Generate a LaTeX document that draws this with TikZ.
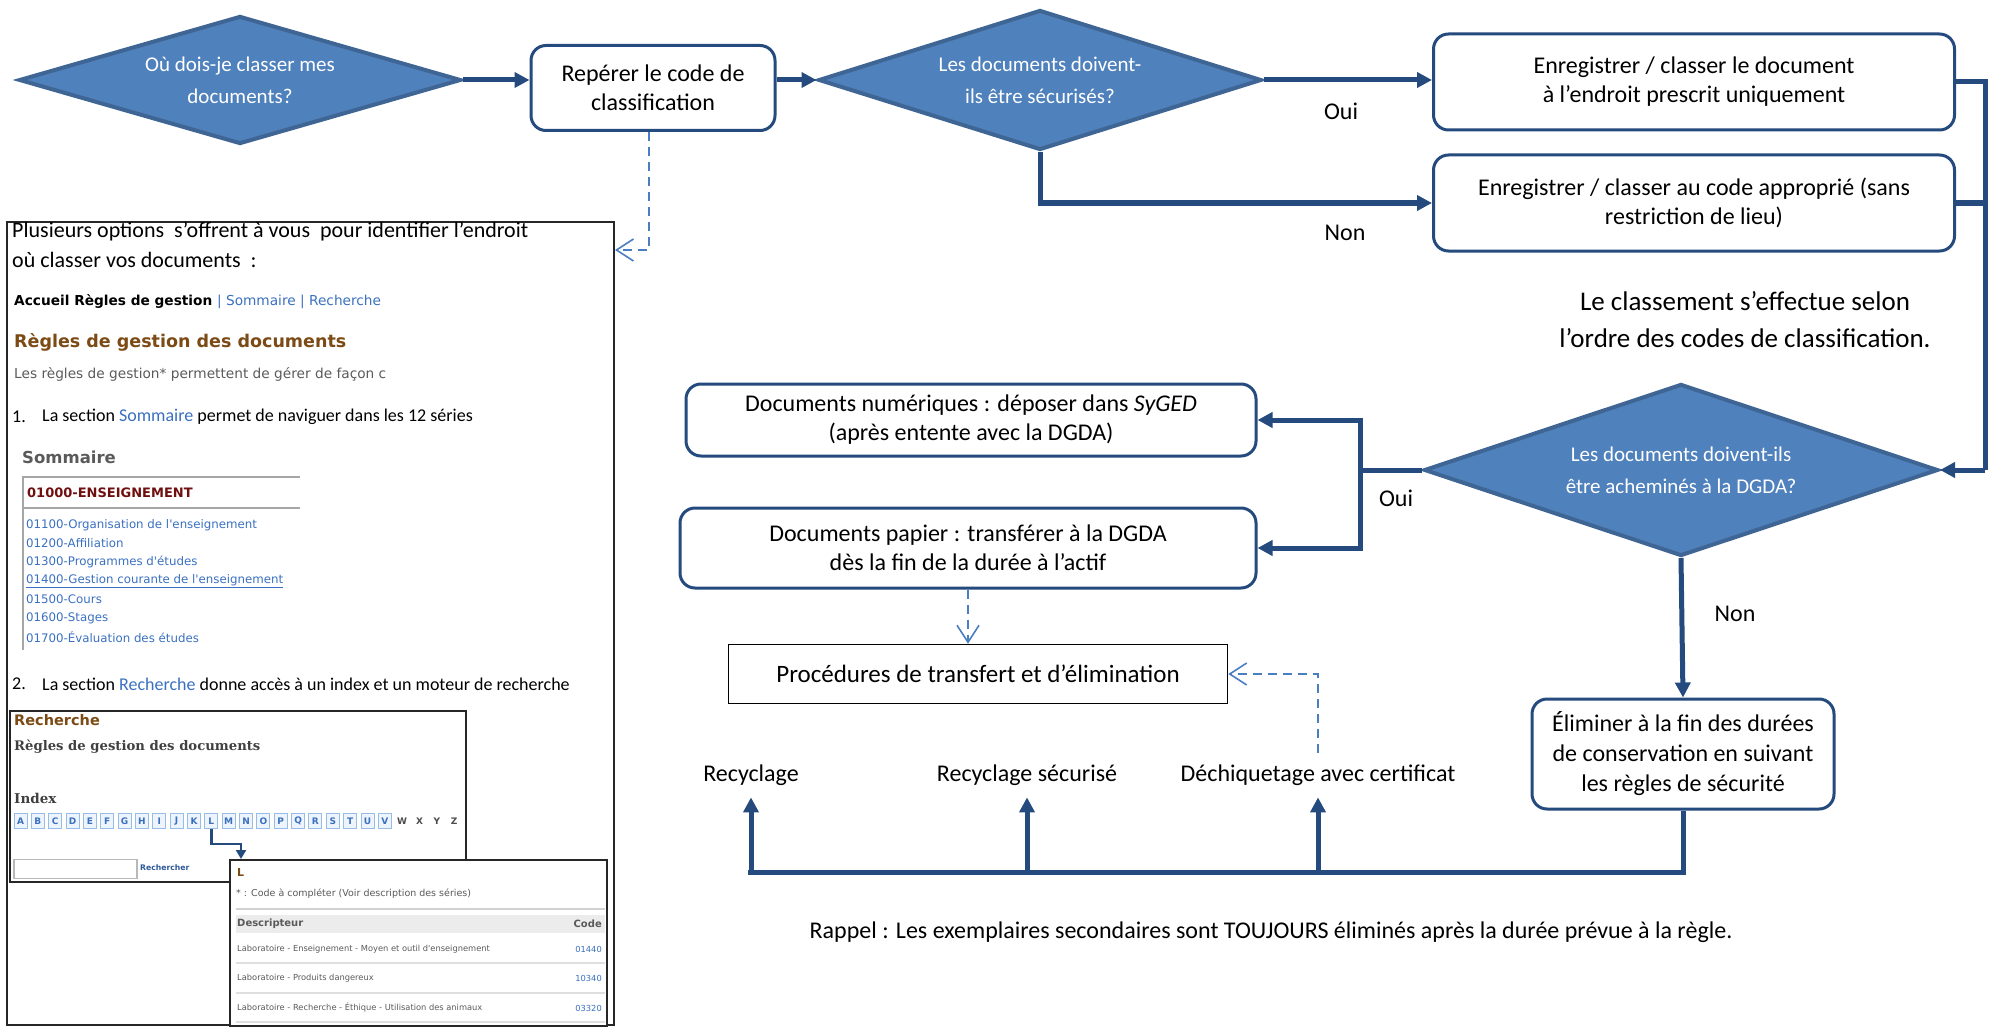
\documentclass[tikz,border=0pt]{standalone}
\usepackage{fontspec}
\setmainfont{Carlito}
\newfontfamily\webfont{DejaVu Sans}
\newfontfamily\webserif{DejaVu Serif}
\usepackage{tikz}
\usetikzlibrary{shapes.geometric,arrows.meta}

\definecolor{decfill}{HTML}{4F81BD}
\definecolor{decline}{HTML}{3F6594}
\definecolor{flowblue}{HTML}{244A7E}
\definecolor{hintblue}{HTML}{4A7EC2}
\definecolor{linkblue}{HTML}{3A70C0}
\definecolor{webbrown}{HTML}{7C4A14}
\definecolor{webred}{HTML}{700F10}
\definecolor{webgray}{HTML}{5A5A5A}
\definecolor{keyline}{HTML}{98BCE8}
\definecolor{keyfill}{HTML}{EEF4FC}

\newcommand{\sz}[2]{\fontsize{#1}{#2}\selectfont}

\tikzset{
  decision/.style={diamond, aspect=3, draw=decline, fill=decfill, line width=4pt, inner sep=0pt,
    text=white, align=center, font=\sz{21}{32}},
  stepbox/.style={rectangle, rounded corners=15pt, draw=flowblue, line width=3pt,
    fill=white, align=center, inner sep=0pt, font=\sz{24}{29}},
  flow/.style={draw=flowblue, line width=5pt},
  hint/.style={draw=hintblue, line width=1.6pt, dash pattern=on 9pt off 6pt,
    -{Straight Barb[length=17pt,width=22pt,line width=1.6pt]}},
  tag/.style={inner sep=0pt, font=\sz{24}{29}},
  web/.style={anchor=west, inner sep=0pt},
  panel/.style={draw=black!85, line width=1.5pt, inner sep=0pt},
  keycap/.style={draw=keyline, fill=keyfill, line width=1pt, minimum width=13pt,
    minimum height=15pt, inner sep=0pt, text=linkblue, font=\webfont\bfseries\sz{9}{10}},
}

\begin{document}
\begin{tikzpicture}[x=1pt,y=-1pt,>={Triangle[length=15pt,width=15pt]}]
\useasboundingbox (0,0) rectangle (1993,1027);

% top row
\node[decision, minimum width=442pt, minimum height=128pt] (where) at (240,80) {Où dois-je classer mes\\documents?};
\node[stepbox, minimum width=244pt, minimum height=85pt] (locate) at (653,88) {Repérer le code de\\classification};
\node[decision, minimum width=443pt, minimum height=140pt] (secure) at (1040,80) {Les documents doivent-\\ils être sécurisés?};
\node[stepbox, minimum width=521pt, minimum height=96pt] (fixed) at (1694,82) {Enregistrer / classer le document\\à l’endroit prescrit uniquement};
\node[stepbox, minimum width=521pt, minimum height=96pt] (free) at (1694,203) {Enregistrer / classer au code approprié (sans\\restriction de lieu)};
\node[tag] (yes1) at (1341,111) {Oui};
\node[tag] (no1) at (1345,233) {Non};
\node[tag, align=center, font=\sz{27}{37}] (order) at (1745,320) {Le classement s’effectue selon\\l’ordre des codes de classification.};

% second part
\node[decision, minimum width=514pt, minimum height=172pt] (send) at (1681,470) {Les documents doivent-ils\\être acheminés à la DGDA?};
\node[stepbox, minimum width=570pt, minimum height=72pt] (digital) at (971,420) {Documents numériques : déposer dans \textit{SyGED}\\(après entente avec la DGDA)};
\node[stepbox, minimum width=576pt, minimum height=80pt] (paper) at (968,548) {Documents papier : transférer à la DGDA\\dès la fin de la durée à l’actif};
\node[tag] (yes2) at (1396,498) {Oui};
\node[tag] (no2) at (1735,614) {Non};
\node[stepbox, minimum width=302pt, minimum height=110pt, font=\sz{24}{30}] (purge) at (1683,754) {Éliminer à la fin des durées\\de conservation en suivant\\les règles de sécurité};
\node[draw=black, line width=1.5pt, minimum width=499pt, minimum height=59pt, font=\sz{25}{30}] (proc) at (978,674) {Procédures de transfert et d’élimination};
\node[tag, outer sep=12pt] (recy) at (751,775) {Recyclage};
\node[tag, outer sep=12pt] (recysafe) at (1027,775) {Recyclage sécurisé};
\node[tag, outer sep=12pt] (shred) at (1318,775) {Déchiquetage avec certificat};
\node[tag] (remind) at (1271,932) {Rappel : Les exemplaires secondaires sont TOUJOURS éliminés après la durée prévue à la règle.};

\coordinate (rail) at (1985,470);
\coordinate (split) at (1360,470);
\coordinate (bus) at (748,872);
\coordinate (tap) at (615,250);

\draw[flow,->] (where.east) -- (where.east -| locate.west);
\draw[flow,->] (secure.west -| locate.east) -- (secure.west);
\draw[flow,->] (secure.east) -- (secure.east -| fixed.west);
\draw[flow,->] (secure.south) |- (free.west);
\draw[flow] (fixed.east) -| (rail);
\draw[flow] (free.east) -- (free.east -| rail);
\draw[flow,->] (rail) -- (send.east);
\draw[flow] (send.west) -- (split);
\draw[flow,->] (split) |- (digital.east);
\draw[flow,->] (split) |- (paper.east);
\draw[flow,->] (send.south) -- (purge.north);
\draw[flow] (purge.south) |- (bus);
\draw[flow,->] (recy.south |- bus) -- (recy.south);
\draw[flow,->] (recysafe.south |- bus) -- (recysafe.south);
\draw[flow,->] (shred.south |- bus) -- (shred.south);

\draw[hint] ([xshift=-4pt]locate.south) |- (tap);
\draw[hint] (paper.south) -- (paper.south |- proc.north);
\draw[hint] (shred.north) |- (proc.east);

% screenshot of the web page
\node[panel, minimum width=607pt, minimum height=803pt] (shot) at (310.5,623.5) {};
\node[web, font=\sz{22}{24}] (intro1) at (12,232) {Plusieurs options~ s’offrent à vous~ pour identifier l’endroit};
\node[web, font=\sz{22}{24}] (intro2) at (12,260) {où classer vos documents~ :};
\node[web, font=\webfont\bfseries\sz{13.7}{16}] (crumbs) at (14,302) {Accueil Règles de gestion \textcolor{linkblue}{\mdseries| Sommaire | Recherche}};
\node[web, text=webbrown, font=\webfont\bfseries\sz{17.5}{20}] (rulestitle) at (14,342) {Règles de gestion des documents};
\node[web, text=webgray, font=\webfont\sz{13.7}{16}] (rulesnote) at (14,374) {Les règles de gestion* permettent de gérer de façon c};
\node[web, font=\sz{18}{22}] (num1) at (12,417) {1.};
\node[web, font=\sz{18}{22}] (sect1) at (42,417) {La section \textcolor{linkblue}{Sommaire} permet de naviguer dans les 12 séries};
\node[web, text=webgray, font=\webfont\bfseries\sz{16.5}{19}] (summary) at (22,457) {Sommaire};
\draw[gray!70, line width=2pt] (22,477) -- (300,477);
\draw[gray!70, line width=2pt] (22,508) -- (300,508);
\draw[gray!70, line width=1.5pt] (23,477) -- (23,650);
\node[web, text=webred, font=\webfont\bfseries\sz{13}{15}] (series) at (27,493) {01000-ENSEIGNEMENT};
\node[web, text=linkblue, font=\webfont\sz{11.8}{13}] (item1) at (26,525) {01100-Organisation de l'enseignement};
\node[web, text=linkblue, font=\webfont\sz{11.8}{13}] (item2) at (26,543.5) {01200-Affiliation};
\node[web, text=linkblue, font=\webfont\sz{11.8}{13}] (item3) at (26,562) {01300-Programmes d'études};
\node[web, text=linkblue, font=\webfont\sz{11.8}{13}] (item4) at (26,581) {\underline{01400-Gestion courante de l'enseignement}};
\node[web, text=linkblue, font=\webfont\sz{11.8}{13}] (item5) at (26,599.5) {01500-Cours};
\node[web, text=linkblue, font=\webfont\sz{11.8}{13}] (item6) at (26,618) {01600-Stages};
\node[web, text=linkblue, font=\webfont\sz{11.8}{13}] (item7) at (26,637) {01700-Évaluation des études};
\node[web, font=\sz{18}{22}] (num2) at (12,684) {2.};
\node[web, font=\sz{18}{22}] (sect2) at (42,684) {La section \textcolor{linkblue}{Recherche} donne accès à un index et un moteur de recherche};

% search panel
\node[panel, minimum width=456pt, minimum height=171pt] (findbox) at (238,796.5) {};
\node[web, text=webbrown, font=\webfont\bfseries\sz{14.5}{16}] (findtitle) at (14,720) {Recherche};
\node[web, text=black!75, font=\webserif\bfseries\sz{13.2}{15}] (findsub) at (14,747) {Règles de gestion des documents};
\node[web, text=black!75, font=\webserif\bfseries\sz{13.5}{15}] (index) at (14,798) {Index};
\foreach \ch [count=\k from 0] in {A,B,C,D,E,F,G,H,I,J,K,L,M,N,O,P,Q,R,S,T,U,V}
  \node[keycap] (key\ch) at ({20.5+17.35*\k},821) {\ch};
\foreach \ch [count=\k from 22] in {W,X,Y,Z}
  \node[inner sep=0pt, text=black!70, font=\webfont\bfseries\sz{9}{10}] (key\ch) at ({20.5+17.35*\k},821) {\ch};
\node[draw=gray!55, line width=1.5pt, minimum width=123pt, minimum height=19pt, inner sep=0pt] (query) at (75.5,869) {};
\node[web, text=linkblue!80!black, font=\webfont\bfseries\sz{7.7}{9}] (go) at (140,868) {Rechercher};

% result panel for L
\node[panel, fill=white, line width=2pt, minimum width=377pt, minimum height=166pt] (lbox) at (418.5,943) {};
\coordinate (ldrop) at (241,844);
\draw[draw=flowblue, line width=2.5pt, -{Triangle[length=9pt,width=10pt]}] (keyL.south) |- (ldrop) -- (ldrop |- lbox.north);
\node[web, text=webbrown, font=\webfont\bfseries\sz{11}{13}] (lhead) at (237,872) {L};
\node[web, text=webgray, font=\webfont\sz{9.5}{11}] (lnote) at (236,894) {* : Code à compléter (Voir description des séries)};
\draw[gray!35, line width=2pt] (236,909) -- (605,909);
\fill[gray!15] (236,915) rectangle (605,933);
\node[web, text=webgray, font=\webfont\bfseries\sz{10}{11}] (lcol1) at (237,924) {Descripteur};
\node[anchor=east, inner sep=0pt, text=webgray, font=\webfont\bfseries\sz{10}{11}] (lcol2) at (602,924) {Code};
\node[web, text=webgray, font=\webfont\sz{8.3}{10}] (row1) at (237,949) {Laboratoire - Enseignement - Moyen et outil d'enseignement};
\node[anchor=east, inner sep=0pt, text=linkblue, font=\webfont\sz{8.3}{10}] (code1) at (602,949) {01440};
\draw[gray!25, line width=2pt] (236,963) -- (605,963);
\node[web, text=webgray, font=\webfont\sz{8.3}{10}] (row2) at (237,978) {Laboratoire - Produits dangereux};
\node[anchor=east, inner sep=0pt, text=linkblue, font=\webfont\sz{8.3}{10}] (code2) at (602,978) {10340};
\draw[gray!25, line width=2pt] (236,993) -- (605,993);
\node[web, text=webgray, font=\webfont\sz{8.3}{10}] (row3) at (237,1008) {Laboratoire - Recherche - Éthique - Utilisation des animaux};
\node[anchor=east, inner sep=0pt, text=linkblue, font=\webfont\sz{8.3}{10}] (code3) at (602,1008) {03320};
\draw[gray!25, line width=2pt] (236,1022) -- (605,1022);
\end{tikzpicture}
\end{document}
